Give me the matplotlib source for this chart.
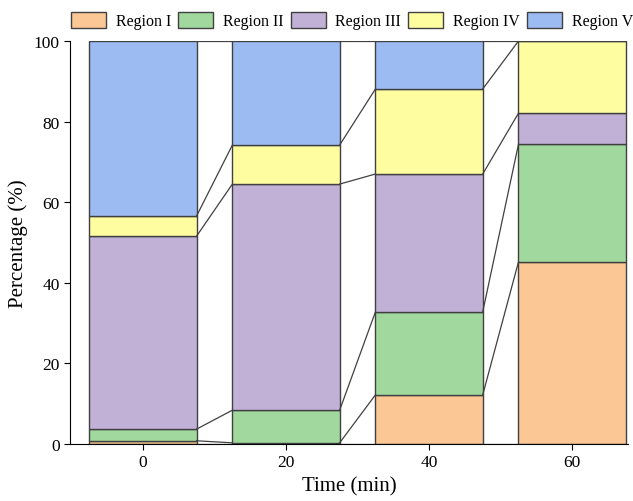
import numpy as np
from matplotlib import pyplot as plt

plt.rcParams['font.family'] = ['Liberation Serif', 'DejaVu Serif']

times = [0, 20, 40, 60]
regions = ['Region I', 'Region II', 'Region III', 'Region IV', 'Region V']
region_1 = [0.8, 0.3, 12.2, 45.2]
region_2 = [2.9, 8.1, 20.6, 29.2]
region_3 = [47.9, 56.1, 34.2, 7.7]
region_4 = [5.0, 9.7, 21.1, 17.9]
region_5 = [43.4, 25.8, 11.9, 0.0]
colors = ['#FAC795', '#A0D89D', '#C2B1D6', '#FEFDA0', '#9BBBF2']

vals = np.array([region_1, region_2, region_3, region_4, region_5])
width = 15
edge = '#404040'

fig = plt.figure(figsize=(6.33, 5.02), dpi=100)
ax = fig.add_axes([0.1106, 0.1135, 0.8814, 0.8028])

bottom = np.zeros(len(times))
for k in range(len(regions)):
    ax.bar(times, vals[k], width, bottom=bottom, color=colors[k], edgecolor=edge,
           linewidth=1, label=regions[k])
    bottom = bottom + vals[k]

# lines joining the same boundary between neighbouring bars
cum = np.vstack([np.zeros(len(times)), np.cumsum(vals, axis=0)])
for i in range(len(times) - 1):
    x0 = times[i] + width / 2
    x1 = times[i + 1] - width / 2
    for j in range(cum.shape[0]):
        ax.plot([x0, x1], [cum[j, i], cum[j, i + 1]], c=edge, lw=0.9)

ax.set_xlim(-10.2, 67.8)
ax.set_ylim(0, 100)
ax.set_xticks(times)
ax.set_yticks(np.arange(0, 101, 20))
ax.spines['top'].set_visible(False)
ax.spines['right'].set_visible(False)
ax.tick_params(labelsize=12.5, direction='out', length=4)
ax.set_xlabel('Time (min)', fontsize=15)
ax.set_ylabel('Percentage (%)', fontsize=15)

fig.legend(loc='upper left', bbox_to_anchor=(0.092, 1.0), ncol=5, frameon=False,
           fontsize=11.5, handlelength=2.2, handleheight=1.2, columnspacing=0.45,
           handletextpad=0.6, borderpad=0.3)

plt.savefig('out.png', dpi=100)
